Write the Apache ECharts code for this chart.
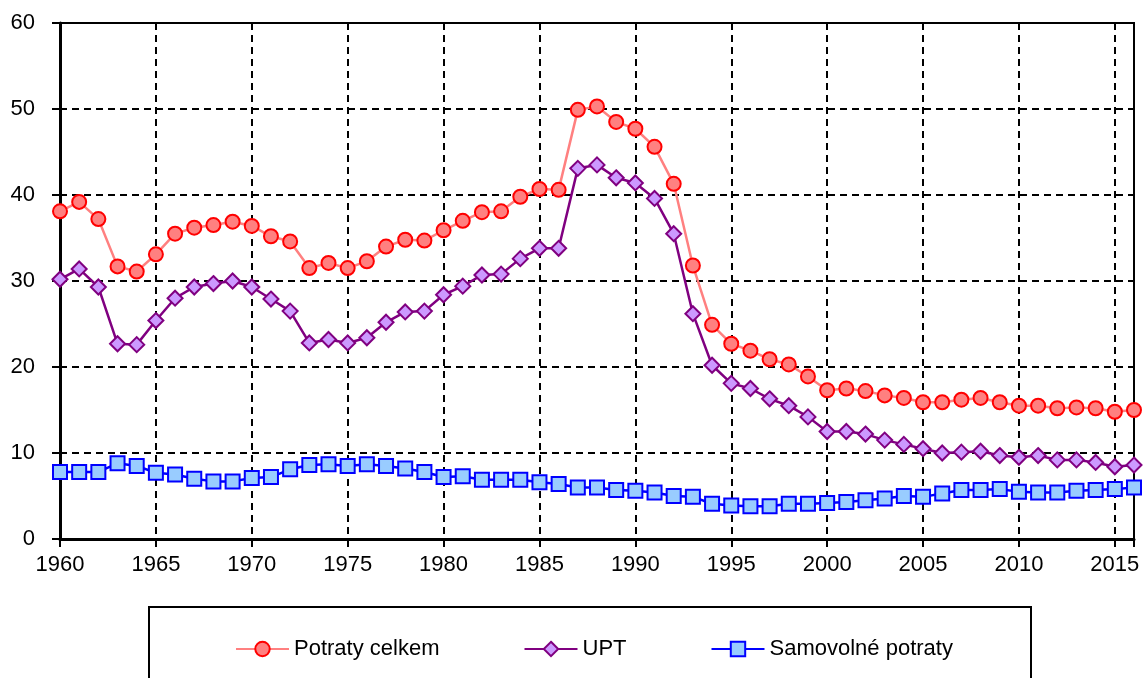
<!DOCTYPE html>
<html>
<head>
<meta charset="utf-8">
<script src="https://cdn.jsdelivr.net/npm/echarts@6/dist/echarts.min.js"></script>
<style>
html,body{margin:0;padding:0;background:#fff;}
#chart{width:1144px;height:678px;}
</style>
</head>
<body>
<div id="chart"></div>
<script>
const years = [1960,1961,1962,1963,1964,1965,1966,1967,1968,1969,
  1970,1971,1972,1973,1974,1975,1976,1977,1978,1979,
  1980,1981,1982,1983,1984,1985,1986,1987,1988,1989,
  1990,1991,1992,1993,1994,1995,1996,1997,1998,1999,
  2000,2001,2002,2003,2004,2005,2006,2007,2008,2009,
  2010,2011,2012,2013,2014,2015,2016];

const potratyCelkem = [38.1,39.2,37.2,31.7,31.1,33.1,35.5,36.2,36.5,36.9,
  36.4,35.2,34.6,31.5,32.1,31.5,32.3,34.0,34.8,34.7,
  35.9,37.0,38.0,38.1,39.8,40.7,40.6,49.9,50.3,48.5,
  47.7,45.6,41.3,31.8,24.9,22.7,21.9,20.9,20.3,18.9,
  17.3,17.5,17.2,16.7,16.4,15.9,15.9,16.2,16.4,15.9,
  15.5,15.5,15.2,15.3,15.2,14.8,15.0];

const upt = [30.2,31.4,29.3,22.7,22.6,25.4,28.0,29.3,29.7,30.0,
  29.3,27.9,26.5,22.8,23.2,22.8,23.4,25.2,26.4,26.5,
  28.4,29.4,30.7,30.8,32.6,33.8,33.8,43.1,43.5,42.0,
  41.4,39.6,35.5,26.2,20.2,18.1,17.5,16.3,15.5,14.2,
  12.5,12.5,12.2,11.5,11.0,10.5,10.0,10.1,10.2,9.7,
  9.5,9.7,9.2,9.2,8.9,8.4,8.6];

const samovolne = [7.8,7.8,7.8,8.8,8.5,7.7,7.5,7.0,6.7,6.7,
  7.1,7.2,8.1,8.6,8.7,8.5,8.7,8.5,8.2,7.8,
  7.2,7.3,6.9,6.9,6.9,6.6,6.4,6.0,6.0,5.7,
  5.6,5.4,5.0,4.9,4.1,3.9,3.8,3.8,4.1,4.1,
  4.2,4.3,4.5,4.7,5.0,4.9,5.3,5.7,5.7,5.8,
  5.5,5.4,5.4,5.6,5.7,5.8,6.0];

const seriesNames = ['Potraty celkem','UPT','Samovolné potraty'];

const pair = arr => years.map((y,i)=>[y,arr[i]]);
const FONT = "'Liberation Sans',Arial,sans-serif";

const chart = echarts.init(document.getElementById('chart'), null, {renderer:'canvas'});
chart.setOption({
  animation:false,
  backgroundColor:'#fff',
  grid:{left:60,top:23,right:10,bottom:139,show:true,borderColor:'#000',borderWidth:2,backgroundColor:'transparent'},
  xAxis:{
    type:'value',min:1960,max:2016,interval:5,
    axisLine:{show:true,lineStyle:{color:'#000',width:3}},
    axisTick:{show:true,length:8,inside:false,lineStyle:{color:'#000',width:2}},
    axisLabel:{color:'#000',fontFamily:FONT,fontSize:22,margin:15,
      formatter:v=> (v%5===0 && v<2016) ? String(v) : ''},
    splitLine:{show:true,lineStyle:{color:'#000',width:2,type:[7,5]}}
  },
  yAxis:{
    type:'value',min:0,max:60,interval:10,
    axisLine:{show:true,lineStyle:{color:'#000',width:3}},
    axisTick:{show:true,length:8,inside:false,lineStyle:{color:'#000',width:2}},
    axisLabel:{color:'#000',fontFamily:FONT,fontSize:22,margin:25},
    splitLine:{show:true,lineStyle:{color:'#000',width:2,type:[7,5]}}
  },
  graphic:[{
    type:'rect',left:148,top:606,
    shape:{width:882,height:110},
    style:{fill:'transparent',stroke:'#000',lineWidth:2},z:100
  }],
  legend:{
    top:633,left:230,itemGap:84,itemWidth:53,itemHeight:18,
    textStyle:{color:'#000',fontFamily:FONT,fontSize:22},
    data:seriesNames
  },
  series:[
    {name:seriesNames[0],type:'line',data:pair(potratyCelkem),
      symbol:'circle',symbolSize:14,z:3,
      lineStyle:{color:'#FF8080',width:2.5},
      itemStyle:{color:'#FF8080',borderColor:'#FF0000',borderWidth:2}},
    {name:seriesNames[1],type:'line',data:pair(upt),
      symbol:'diamond',symbolSize:15,z:4,
      lineStyle:{color:'#800080',width:2.5},
      itemStyle:{color:'#CC99FF',borderColor:'#800080',borderWidth:2}},
    {name:seriesNames[2],type:'line',data:pair(samovolne),
      symbol:'rect',symbolSize:14,z:5,
      lineStyle:{color:'#0000FF',width:2.5},
      itemStyle:{color:'#99CCFF',borderColor:'#0000FF',borderWidth:2}}
  ]
});
</script>
</body>
</html>
